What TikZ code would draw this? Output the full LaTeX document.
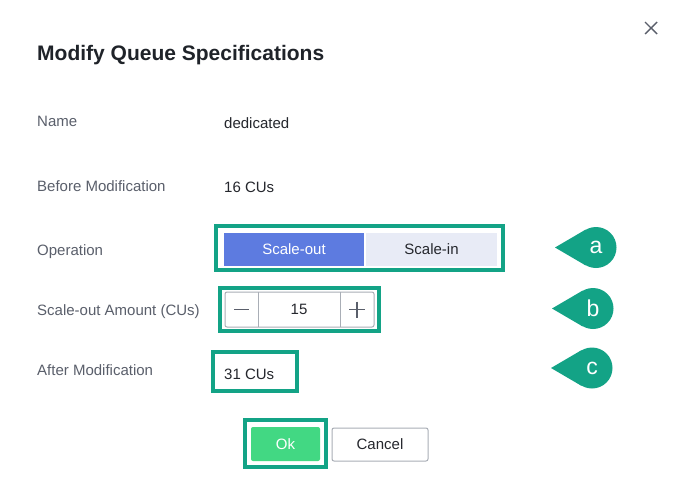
\documentclass[tikz,border=0pt]{standalone}
\usepackage{fontspec}
\setmainfont{Liberation Sans}
\definecolor{framegreen}{HTML}{13A386}
\definecolor{labelgray}{HTML}{5A5F6B}
\definecolor{valtext}{HTML}{25272D}
\definecolor{titletext}{HTML}{1F2329}
\definecolor{btnblue}{HTML}{5D7BE0}
\definecolor{btnlight}{HTML}{E8EBF6}
\definecolor{okgreen}{HTML}{42D883}
\definecolor{bordergray}{HTML}{A9AEB6}
\tikzset{
  lbl/.style={anchor=base west, inner sep=0pt, text=labelgray, font=\fontsize{15}{18}\selectfont},
  val/.style={anchor=base west, inner sep=0pt, text=valtext, font=\fontsize{15}{18}\selectfont},
  hilite/.style={draw=framegreen, line width=3.5pt},
  thinborder/.style={draw=bordergray, line width=1pt},
  marker/.style={circle, fill=framegreen, minimum size=41pt, inner sep=0pt, text=white, font=\fontsize{23}{24}\selectfont},
  btntext/.style={font=\fontsize{15}{18}\selectfont, text=valtext, inner sep=0pt},
}
\begin{document}
\begin{tikzpicture}[x=1pt,y=-1pt]
    \useasboundingbox[fill=white] (0,0) rectangle (679,498);
    % title and close cross
    \node[anchor=base west, inner sep=0pt, text=titletext, font=\bfseries\fontsize{21}{24}\selectfont] (title) at (37,60) {Modify Queue Specifications};
    \draw[labelgray, line width=1.4pt] (645,22) -- (657,34) (657,22) -- (645,34);

    % row labels
    \node[lbl] (lname) at (37,126) {Name};
    \node[lbl] (lbefore) at (37,191) {Before Modification};
    \node[lbl] (lop) at (37,255) {Operation};
    \node[lbl] (lamount) at (37,315) {Scale-out Amount (CUs)};
    \node[lbl] (lafter) at (37,375) {After Modification};

    % values
    \node[val] (vname) at (224,128) {dedicated};
    \node[val] (vbefore) at (224,192) {16 CUs};

    % operation switch
    \fill[btnblue] (224,233) rectangle (364,266);
    \fill[btnlight] (366,233) rectangle (497,266);
    \node[btntext, text=white] (sout) at (294,249.5) {Scale-out};
    \node[btntext] (sin) at (431.5,249.5) {Scale-in};
    \draw[hilite] (216,226) rectangle (503,270);

    % amount spinner
    \draw[thinborder, rounded corners=2pt] (225,292) rectangle (374,327);
    \draw[thinborder] (258,292) -- (258,327) (340,292) -- (340,327);
    \draw[labelgray, line width=1.6pt] (234,309.5) -- (249,309.5);
    \draw[labelgray, line width=1.6pt] (349,309.5) -- (365,309.5) (357,301.5) -- (357,317.5);
    \node[btntext] (vamount) at (299,309.5) {15};
    \draw[hilite] (220,288) rectangle (379,331);

    % result
    \node[val] (vafter) at (224,379) {31 CUs};
    \draw[hilite] (213,352) rectangle (297,391);

    % buttons
    \fill[okgreen, rounded corners=2pt] (251,427) rectangle (320,461);
    \node[btntext, text=white] (ok) at (285.5,444) {Ok};
    \draw[hilite] (245,420) rectangle (326,467);
    \draw[thinborder, rounded corners=2pt] (332,428) rectangle (428,461);
    \node[btntext] (cancel) at (380,444.5) {Cancel};

    % callout markers
    \foreach \x/\y/\t in {596/247.5/a, 593/308.5/b, 592/368/c} {
      \node[marker] (m\t) at (\x,\y) {\t};
      \fill[framegreen] (\x-41,\y) -- (m\t.120) -- (m\t.240) -- cycle;
    }
\end{tikzpicture}
\end{document}
